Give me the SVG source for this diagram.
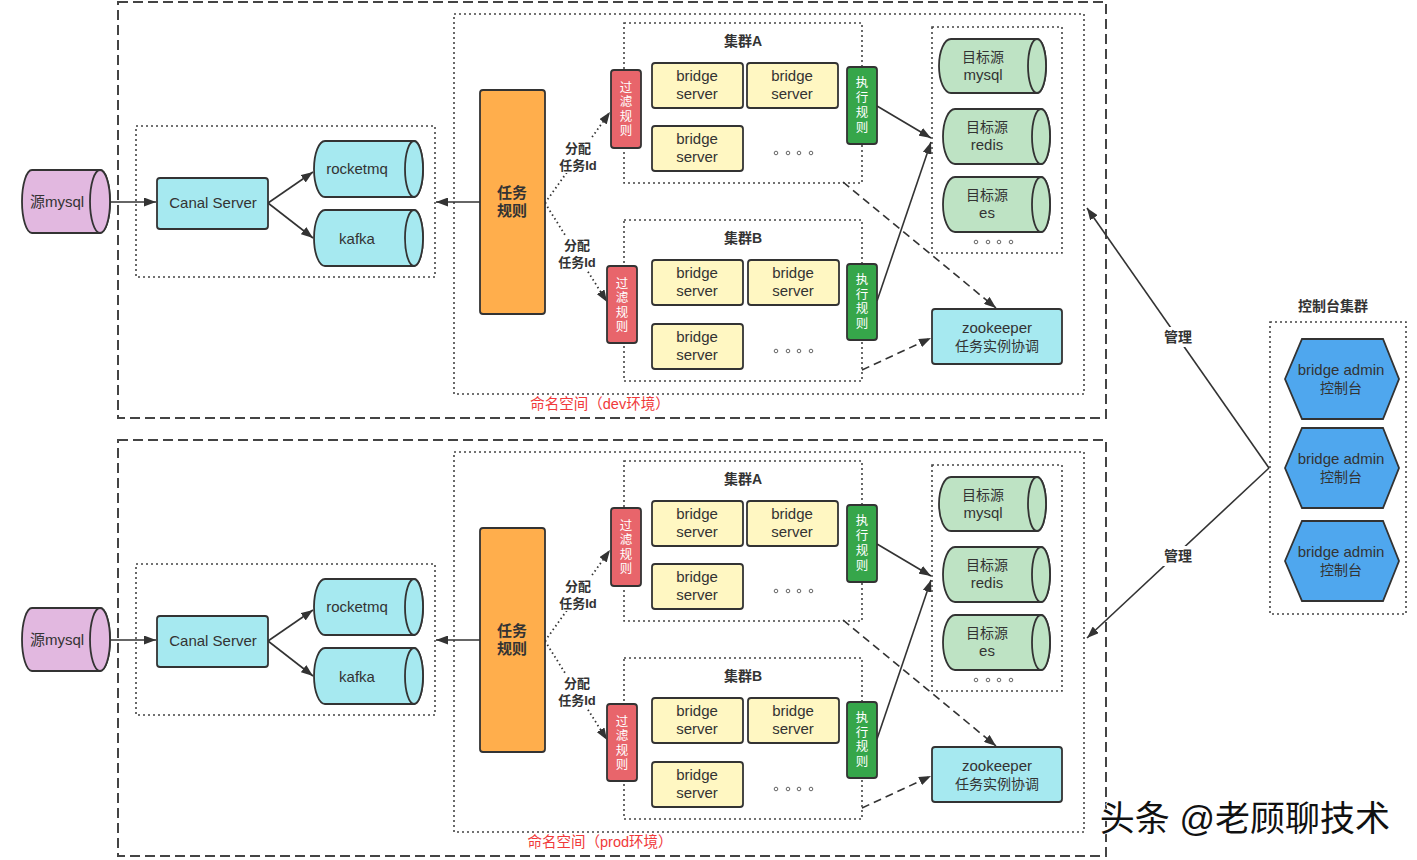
<svg xmlns="http://www.w3.org/2000/svg" width="1417" height="860" viewBox="0 0 1417 860">
<style>
text{font-family:"Liberation Sans","Noto Sans CJK SC",sans-serif;fill:#333;text-anchor:middle}
.t14{font-size:14px}
.t15{font-size:15px}
.t13{font-size:13px}
.b{font-weight:bold}
.w{fill:#fff;font-size:12.5px}
.red{fill:#F03A3A;font-size:14.5px}
.outer{fill:none;stroke:#444;stroke-width:2;stroke-dasharray:10 5}
.dot{fill:none;stroke:#444;stroke-width:1.6;stroke-dasharray:2 3}
.sh{stroke:#333;stroke-width:1.8}
.cyan{fill:#A6E9F0}
.pink{fill:#E2B8E0}
.lg{fill:#BEE3C4}
.yel{fill:#FFF7C2}
.org{fill:#FFAE4C}
.rd{fill:#E8656B}
.gr{fill:#36A64A}
.blu{fill:#4FA7EE}
.ln{fill:none;stroke:#333;stroke-width:1.6}
.dl{fill:none;stroke:#333;stroke-width:1.6;stroke-dasharray:8 5}
.dd{fill:none;stroke:#333;stroke-width:1.8;stroke-dasharray:1.5 3}
.sd{fill:none;stroke:#666;stroke-width:1}
</style>
<defs>
<marker id="arr" viewBox="0 0 12 9" refX="12" refY="4.5" markerWidth="12" markerHeight="9" markerUnits="userSpaceOnUse" orient="auto">
<path d="M0,0 L12,4.5 L0,9 z" fill="#333"/>
</marker>
</defs>
<rect width="1417" height="860" fill="#fff"/>

<!-- ========== frames ========== -->
<g id="frames">
<rect class="outer" x="118" y="2" width="988" height="416"/>
<rect class="dot" x="454" y="14" width="630" height="380"/>
<rect class="dot" x="136" y="126" width="299" height="151"/>
<rect class="dot" x="624" y="23" width="238" height="160"/>
<rect class="dot" x="624" y="220" width="238" height="161"/>
<rect class="dot" x="932" y="27" width="130" height="226"/>
<text class="red" x="600" y="409">命名空间（dev环境）</text>
<text class="t14 b" x="743" y="46">集群A</text>
<text class="t14 b" x="743" y="243">集群B</text>
<g transform="translate(0,438)">
<rect class="outer" x="118" y="2" width="988" height="416"/>
<rect class="dot" x="454" y="14" width="630" height="380"/>
<rect class="dot" x="136" y="126" width="299" height="151"/>
<rect class="dot" x="624" y="23" width="238" height="160"/>
<rect class="dot" x="624" y="220" width="238" height="161"/>
<rect class="dot" x="932" y="27" width="130" height="226"/>
<text class="red" x="600" y="409">命名空间（prod环境）</text>
<text class="t14 b" x="743" y="46">集群A</text>
<text class="t14 b" x="743" y="243">集群B</text>
</g>
<rect class="dot" x="1270" y="322" width="136" height="292"/>
<text class="t14 b" x="1333" y="311">控制台集群</text>
</g>

<!-- ========== connectors ========== -->
<g id="connectors">
<g id="conn-dev">
<line class="ln" x1="110" y1="202" x2="156" y2="202" marker-end="url(#arr)"/>
<line class="ln" x1="268" y1="203" x2="313" y2="172" marker-end="url(#arr)"/>
<line class="ln" x1="268" y1="203" x2="313" y2="238" marker-end="url(#arr)"/>
<line class="ln" x1="480" y1="202" x2="436" y2="202" marker-end="url(#arr)"/>
<line class="dd" x1="545" y1="203" x2="610" y2="112" marker-end="url(#arr)"/>
<line class="dd" x1="545" y1="203" x2="607" y2="302" marker-end="url(#arr)"/>
<line class="ln" x1="877" y1="106" x2="931" y2="138" marker-end="url(#arr)"/>
<line class="ln" x1="877" y1="301" x2="931" y2="142" marker-end="url(#arr)"/>
<line class="dl" x1="843" y1="182" x2="996" y2="308" marker-end="url(#arr)"/>
<line class="dl" x1="862" y1="370" x2="931" y2="338" marker-end="url(#arr)"/>
<rect x="560" y="139" width="36" height="34" fill="#fff"/>
<text class="t13 b" x="578" y="153">分配</text>
<text class="t13 b" x="578" y="170">任务Id</text>
<rect x="559" y="236" width="36" height="34" fill="#fff"/>
<text class="t13 b" x="577" y="250">分配</text>
<text class="t13 b" x="577" y="267">任务Id</text>
</g>
<g id="conn-prod" transform="translate(0,438)">
<line class="ln" x1="110" y1="202" x2="156" y2="202" marker-end="url(#arr)"/>
<line class="ln" x1="268" y1="203" x2="313" y2="172" marker-end="url(#arr)"/>
<line class="ln" x1="268" y1="203" x2="313" y2="238" marker-end="url(#arr)"/>
<line class="ln" x1="480" y1="202" x2="436" y2="202" marker-end="url(#arr)"/>
<line class="dd" x1="545" y1="203" x2="610" y2="112" marker-end="url(#arr)"/>
<line class="dd" x1="545" y1="203" x2="607" y2="302" marker-end="url(#arr)"/>
<line class="ln" x1="877" y1="106" x2="931" y2="138" marker-end="url(#arr)"/>
<line class="ln" x1="877" y1="301" x2="931" y2="142" marker-end="url(#arr)"/>
<line class="dl" x1="843" y1="182" x2="996" y2="308" marker-end="url(#arr)"/>
<line class="dl" x1="862" y1="370" x2="931" y2="338" marker-end="url(#arr)"/>
<rect x="560" y="139" width="36" height="34" fill="#fff"/>
<text class="t13 b" x="578" y="153">分配</text>
<text class="t13 b" x="578" y="170">任务Id</text>
<rect x="559" y="236" width="36" height="34" fill="#fff"/>
<text class="t13 b" x="577" y="250">分配</text>
<text class="t13 b" x="577" y="267">任务Id</text>
</g>
<g id="conn-admin">
<line class="ln" x1="1269" y1="468" x2="1087" y2="208" marker-end="url(#arr)"/>
<line class="ln" x1="1269" y1="468" x2="1087" y2="638" marker-end="url(#arr)"/>
<rect x="1162" y="327" width="32" height="20" fill="#fff"/>
<text class="t14 b" x="1178" y="342">管理</text>
<rect x="1162" y="546" width="32" height="20" fill="#fff"/>
<text class="t14 b" x="1178" y="561">管理</text>
</g>
</g>

<!-- ========== dev nodes ========== -->
<g id="src-mysql-dev">
<path class="pink sh" d="M32,170 L100,170 A10 31.5 0 0 1 100,233 L32,233 A10 31.5 0 0 1 32,170 Z"/>
<ellipse class="pink sh" cx="100" cy="201.5" rx="10" ry="31.5"/>
<text class="t15" x="57" y="207">源mysql</text>
</g>
<g id="canal-dev">
<rect class="cyan sh" x="157" y="178" width="111" height="51" rx="3"/>
<text class="t15" x="213" y="208">Canal Server</text>
</g>
<g id="rocketmq-dev">
<path class="cyan sh" d="M325,141 L414,141 A9 28 0 0 1 414,197 L325,197 A11 28 0 0 1 325,141 Z"/>
<ellipse class="cyan sh" cx="414" cy="169" rx="9" ry="28"/>
<text class="t15" x="357" y="174">rocketmq</text>
</g>
<g id="kafka-dev">
<path class="cyan sh" d="M325,210 L414,210 A9 28 0 0 1 414,266 L325,266 A11 28 0 0 1 325,210 Z"/>
<ellipse class="cyan sh" cx="414" cy="238" rx="9" ry="28"/>
<text class="t15" x="357" y="244">kafka</text>
</g>
<g id="task-rule-dev">
<rect class="org sh" x="480" y="90" width="65" height="224" rx="3"/>
<text class="t15 b" x="512" y="198">任务</text>
<text class="t15 b" x="512" y="216">规则</text>
</g>
<g id="filter-a-dev">
<rect class="rd sh" x="611" y="70" width="30" height="78" rx="3"/>
<text class="w" x="626" y="92">过</text><text class="w" x="626" y="106">滤</text><text class="w" x="626" y="121">规</text><text class="w" x="626" y="135">则</text>
</g>
<g id="bs-a1-dev"><rect class="yel sh" x="652" y="63" width="91" height="45" rx="3"/><text class="t15" x="697" y="81">bridge</text><text class="t15" x="697" y="99">server</text></g>
<g id="bs-a2-dev"><rect class="yel sh" x="747" y="63" width="91" height="45" rx="3"/><text class="t15" x="792" y="81">bridge</text><text class="t15" x="792" y="99">server</text></g>
<g id="bs-a3-dev"><rect class="yel sh" x="652" y="126" width="91" height="45" rx="3"/><text class="t15" x="697" y="144">bridge</text><text class="t15" x="697" y="162">server</text></g>
<g id="more-a-dev"><circle class="sd" cx="776" cy="153" r="1.8"/><circle class="sd" cx="788" cy="153" r="1.8"/><circle class="sd" cx="799" cy="153" r="1.8"/><circle class="sd" cx="811" cy="153" r="1.8"/></g>
<g id="exec-a-dev">
<rect class="gr sh" x="847" y="67" width="30" height="77" rx="3"/>
<text class="w" x="862" y="87">执</text><text class="w" x="862" y="102">行</text><text class="w" x="862" y="117">规</text><text class="w" x="862" y="132">则</text>
</g>
<g id="filter-b-dev">
<rect class="rd sh" x="607" y="266" width="30" height="77" rx="3"/>
<text class="w" x="622" y="288">过</text><text class="w" x="622" y="302">滤</text><text class="w" x="622" y="317">规</text><text class="w" x="622" y="331">则</text>
</g>
<g id="bs-b1-dev"><rect class="yel sh" x="652" y="260" width="91" height="45" rx="3"/><text class="t15" x="697" y="278">bridge</text><text class="t15" x="697" y="296">server</text></g>
<g id="bs-b2-dev"><rect class="yel sh" x="748" y="260" width="91" height="45" rx="3"/><text class="t15" x="793" y="278">bridge</text><text class="t15" x="793" y="296">server</text></g>
<g id="bs-b3-dev"><rect class="yel sh" x="652" y="324" width="91" height="45" rx="3"/><text class="t15" x="697" y="342">bridge</text><text class="t15" x="697" y="360">server</text></g>
<g id="more-b-dev"><circle class="sd" cx="776" cy="351" r="1.8"/><circle class="sd" cx="788" cy="351" r="1.8"/><circle class="sd" cx="799" cy="351" r="1.8"/><circle class="sd" cx="811" cy="351" r="1.8"/></g>
<g id="exec-b-dev">
<rect class="gr sh" x="847" y="264" width="30" height="76" rx="3"/>
<text class="w" x="862" y="284">执</text><text class="w" x="862" y="299">行</text><text class="w" x="862" y="313">规</text><text class="w" x="862" y="328">则</text>
</g>
<g id="tgt-mysql-dev">
<path class="lg sh" d="M951,39 L1037,39 A9 27 0 0 1 1037,93 L951,93 A12 27 0 0 1 951,39 Z"/>
<ellipse class="lg sh" cx="1037" cy="66" rx="9" ry="27"/>
<text class="t14" x="983" y="62">目标源</text><text class="t15" x="983" y="80">mysql</text>
</g>
<g id="tgt-redis-dev">
<path class="lg sh" d="M955,109 L1041,109 A9 27.5 0 0 1 1041,164 L955,164 A12 27.5 0 0 1 955,109 Z"/>
<ellipse class="lg sh" cx="1041" cy="136.5" rx="9" ry="27.5"/>
<text class="t14" x="987" y="132">目标源</text><text class="t15" x="987" y="150">redis</text>
</g>
<g id="tgt-es-dev">
<path class="lg sh" d="M955,177 L1041,177 A9 27.5 0 0 1 1041,232 L955,232 A12 27.5 0 0 1 955,177 Z"/>
<ellipse class="lg sh" cx="1041" cy="204.5" rx="9" ry="27.5"/>
<text class="t14" x="987" y="200">目标源</text><text class="t15" x="987" y="218">es</text>
</g>
<g id="more-tgt-dev"><circle class="sd" cx="976" cy="242" r="1.8"/><circle class="sd" cx="988" cy="242" r="1.8"/><circle class="sd" cx="999" cy="242" r="1.8"/><circle class="sd" cx="1011" cy="242" r="1.8"/></g>
<g id="zk-dev">
<rect class="cyan sh" x="932" y="309" width="130" height="55" rx="3"/>
<text class="t15" x="997" y="333">zookeeper</text><text class="t14" x="997" y="351">任务实例协调</text>
</g>

<!-- ========== prod nodes ========== -->
<g transform="translate(0,438)">
<g id="src-mysql-prod">
<path class="pink sh" d="M32,170 L100,170 A10 31.5 0 0 1 100,233 L32,233 A10 31.5 0 0 1 32,170 Z"/>
<ellipse class="pink sh" cx="100" cy="201.5" rx="10" ry="31.5"/>
<text class="t15" x="57" y="207">源mysql</text>
</g>
<g id="canal-prod">
<rect class="cyan sh" x="157" y="178" width="111" height="51" rx="3"/>
<text class="t15" x="213" y="208">Canal Server</text>
</g>
<g id="rocketmq-prod">
<path class="cyan sh" d="M325,141 L414,141 A9 28 0 0 1 414,197 L325,197 A11 28 0 0 1 325,141 Z"/>
<ellipse class="cyan sh" cx="414" cy="169" rx="9" ry="28"/>
<text class="t15" x="357" y="174">rocketmq</text>
</g>
<g id="kafka-prod">
<path class="cyan sh" d="M325,210 L414,210 A9 28 0 0 1 414,266 L325,266 A11 28 0 0 1 325,210 Z"/>
<ellipse class="cyan sh" cx="414" cy="238" rx="9" ry="28"/>
<text class="t15" x="357" y="244">kafka</text>
</g>
<g id="task-rule-prod">
<rect class="org sh" x="480" y="90" width="65" height="224" rx="3"/>
<text class="t15 b" x="512" y="198">任务</text>
<text class="t15 b" x="512" y="216">规则</text>
</g>
<g id="filter-a-prod">
<rect class="rd sh" x="611" y="70" width="30" height="78" rx="3"/>
<text class="w" x="626" y="92">过</text><text class="w" x="626" y="106">滤</text><text class="w" x="626" y="121">规</text><text class="w" x="626" y="135">则</text>
</g>
<g id="bs-a1-prod"><rect class="yel sh" x="652" y="63" width="91" height="45" rx="3"/><text class="t15" x="697" y="81">bridge</text><text class="t15" x="697" y="99">server</text></g>
<g id="bs-a2-prod"><rect class="yel sh" x="747" y="63" width="91" height="45" rx="3"/><text class="t15" x="792" y="81">bridge</text><text class="t15" x="792" y="99">server</text></g>
<g id="bs-a3-prod"><rect class="yel sh" x="652" y="126" width="91" height="45" rx="3"/><text class="t15" x="697" y="144">bridge</text><text class="t15" x="697" y="162">server</text></g>
<g id="more-a-prod"><circle class="sd" cx="776" cy="153" r="1.8"/><circle class="sd" cx="788" cy="153" r="1.8"/><circle class="sd" cx="799" cy="153" r="1.8"/><circle class="sd" cx="811" cy="153" r="1.8"/></g>
<g id="exec-a-prod">
<rect class="gr sh" x="847" y="67" width="30" height="77" rx="3"/>
<text class="w" x="862" y="87">执</text><text class="w" x="862" y="102">行</text><text class="w" x="862" y="117">规</text><text class="w" x="862" y="132">则</text>
</g>
<g id="filter-b-prod">
<rect class="rd sh" x="607" y="266" width="30" height="77" rx="3"/>
<text class="w" x="622" y="288">过</text><text class="w" x="622" y="302">滤</text><text class="w" x="622" y="317">规</text><text class="w" x="622" y="331">则</text>
</g>
<g id="bs-b1-prod"><rect class="yel sh" x="652" y="260" width="91" height="45" rx="3"/><text class="t15" x="697" y="278">bridge</text><text class="t15" x="697" y="296">server</text></g>
<g id="bs-b2-prod"><rect class="yel sh" x="748" y="260" width="91" height="45" rx="3"/><text class="t15" x="793" y="278">bridge</text><text class="t15" x="793" y="296">server</text></g>
<g id="bs-b3-prod"><rect class="yel sh" x="652" y="324" width="91" height="45" rx="3"/><text class="t15" x="697" y="342">bridge</text><text class="t15" x="697" y="360">server</text></g>
<g id="more-b-prod"><circle class="sd" cx="776" cy="351" r="1.8"/><circle class="sd" cx="788" cy="351" r="1.8"/><circle class="sd" cx="799" cy="351" r="1.8"/><circle class="sd" cx="811" cy="351" r="1.8"/></g>
<g id="exec-b-prod">
<rect class="gr sh" x="847" y="264" width="30" height="76" rx="3"/>
<text class="w" x="862" y="284">执</text><text class="w" x="862" y="299">行</text><text class="w" x="862" y="313">规</text><text class="w" x="862" y="328">则</text>
</g>
<g id="tgt-mysql-prod">
<path class="lg sh" d="M951,39 L1037,39 A9 27 0 0 1 1037,93 L951,93 A12 27 0 0 1 951,39 Z"/>
<ellipse class="lg sh" cx="1037" cy="66" rx="9" ry="27"/>
<text class="t14" x="983" y="62">目标源</text><text class="t15" x="983" y="80">mysql</text>
</g>
<g id="tgt-redis-prod">
<path class="lg sh" d="M955,109 L1041,109 A9 27.5 0 0 1 1041,164 L955,164 A12 27.5 0 0 1 955,109 Z"/>
<ellipse class="lg sh" cx="1041" cy="136.5" rx="9" ry="27.5"/>
<text class="t14" x="987" y="132">目标源</text><text class="t15" x="987" y="150">redis</text>
</g>
<g id="tgt-es-prod">
<path class="lg sh" d="M955,177 L1041,177 A9 27.5 0 0 1 1041,232 L955,232 A12 27.5 0 0 1 955,177 Z"/>
<ellipse class="lg sh" cx="1041" cy="204.5" rx="9" ry="27.5"/>
<text class="t14" x="987" y="200">目标源</text><text class="t15" x="987" y="218">es</text>
</g>
<g id="more-tgt-prod"><circle class="sd" cx="976" cy="242" r="1.8"/><circle class="sd" cx="988" cy="242" r="1.8"/><circle class="sd" cx="999" cy="242" r="1.8"/><circle class="sd" cx="1011" cy="242" r="1.8"/></g>
<g id="zk-prod">
<rect class="cyan sh" x="932" y="309" width="130" height="55" rx="3"/>
<text class="t15" x="997" y="333">zookeeper</text><text class="t14" x="997" y="351">任务实例协调</text>
</g>
</g>

<!-- ========== admin nodes ========== -->
<g id="admin-1">
<polygon class="blu sh" points="1285,379 1302,339 1383,339 1399,379 1383,419 1302,419"/>
<text class="t15" x="1341" y="375">bridge admin</text><text class="t14" x="1341" y="393">控制台</text>
</g>
<g id="admin-2">
<polygon class="blu sh" points="1285,468 1302,428 1383,428 1399,468 1383,508 1302,508"/>
<text class="t15" x="1341" y="464">bridge admin</text><text class="t14" x="1341" y="482">控制台</text>
</g>
<g id="admin-3">
<polygon class="blu sh" points="1285,561 1302,521 1383,521 1399,561 1383,601 1302,601"/>
<text class="t15" x="1341" y="557">bridge admin</text><text class="t14" x="1341" y="575">控制台</text>
</g>

<text x="1245" y="831" style="font-size:35px;fill:#111;stroke:#fff;stroke-width:1.5;paint-order:stroke">头条 @老顾聊技术</text>
</svg>
